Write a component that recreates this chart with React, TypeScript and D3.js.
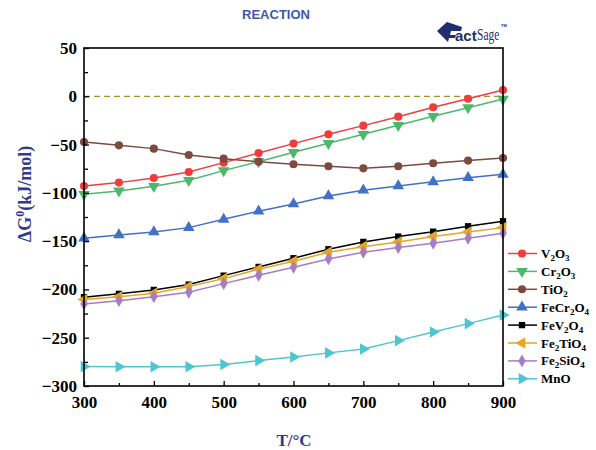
import React, { useEffect, useRef } from "react";
import * as d3 from "d3";

const temps = [300, 350, 400, 450, 500, 550, 600, 650, 700, 750, 800, 850, 900];

const v2o3 = [-92.9, -89.4, -84.6, -78.4, -68.7, -58.7, -49, -39.4, -30.4, -21.1, -11.4, -2.5, 6.5];
const cr2o3 = [-101.5, -98, -93.2, -87, -77, -67.7, -58, -48.7, -39.4, -30, -20.7, -11.8, -2.8];
const tio2 = [-47.3, -50.8, -54.2, -60.8, -64.6, -67.7, -70.4, -72.5, -74.6, -72.5, -69.4, -66.6, -63.9];
const fecr2o4 = [-147, -143.6, -140.5, -136, -127.4, -119, -111.5, -103.2, -97.3, -92.9, -88.6, -84.3, -80.8];
const fev2o4 = [-208, -204.6, -200.5, -195, -185.7, -176.7, -167.7, -158.4, -150.8, -145.3, -140.2, -134.6, -129.4];
const fe2tio4 = [-210.5, -207.5, -204, -197, -188.8, -179, -170.8, -161.5, -155.7, -150.8, -145.3, -140.5, -136];
const fe2sio4 = [-215, -211.6, -207.5, -202.9, -194, -185.3, -177, -168.4, -161.5, -156.7, -152.2, -147, -141.8];
const mno = [-279.9, -280, -280, -280, -277.8, -273.7, -269.9, -265.7, -261.6, -253, -244, -235.4, -226.4];

const seriesNames = [
  ["V", "2", "O", "3"],
  ["Cr", "2", "O", "3"],
  ["TiO", "2"],
  ["FeCr", "2", "O", "4"],
  ["FeV", "2", "O", "4"],
  ["Fe", "2", "TiO", "4"],
  ["Fe", "2", "SiO", "4"],
  ["MnO"],
];
const seriesValues = [v2o3, cr2o3, tio2, fecr2o4, fev2o4, fe2tio4, fe2sio4, mno];
const seriesColors = ["#f03c3c", "#4cb86a", "#7d4a40", "#4170c4", "#000000", "#e6a626", "#a67cc7", "#4ec6d2"];
const seriesSymbols = ["circle", "down", "circle", "up", "square", "left", "diamond", "right"];

const xTicks = [300, 400, 500, 600, 700, 800, 900];
const yTicks = [50, 0, -50, -100, -150, -200, -250, -300];

const serif = "'Liberation Serif', 'Times New Roman', serif";
const navy = "#2f3b8f";

const App = () => {
  const svgRef = useRef<SVGSVGElement>(null);

  useEffect(() => {
    const svg = d3.select(svgRef.current);
    svg.selectAll("*").remove();

    const left = 84, right = 503, top = 48, bottom = 386;
    const x = d3.scaleLinear().domain([300, 900]).range([left, right]);
    const y = d3.scaleLinear().domain([-300, 50]).range([bottom, top]);

    // title
    svg.append("text")
      .attr("x", 276).attr("y", 19)
      .attr("text-anchor", "middle")
      .attr("font-family", "'Liberation Sans', Arial, sans-serif")
      .attr("font-weight", "bold").attr("font-size", 13)
      .attr("fill", "#3d58b0")
      .text("REACTION");

    // FactSage logo (rough)
    const logoCol = "#1f2f6e";
    const logo = svg.append("g");
    logo.append("path")
      .attr("d", "M437,31 L447,22 L462,27 L461,31 L451,31 L450,35 L456,35 L455,38 L449,38 L448,42 Z")
      .attr("fill", logoCol);
    logo.append("text")
      .attr("x", 455).attr("y", 41)
      .attr("font-family", "'Liberation Sans', Arial, sans-serif")
      .attr("font-weight", "bold").attr("font-size", 15)
      .attr("fill", logoCol)
      .text("act");
    logo.append("text")
      .attr("transform", "translate(477,40) scale(0.72,1)")
      .attr("font-family", "'Liberation Serif', serif")
      .attr("font-size", 16)
      .attr("fill", logoCol)
      .text("Sage");
    logo.append("text")
      .attr("x", 501).attr("y", 27)
      .attr("font-family", "'Liberation Sans', sans-serif")
      .attr("font-size", 4).attr("font-weight", "bold")
      .attr("fill", logoCol)
      .text("TM");

    // zero reference line
    svg.append("line")
      .attr("x1", x(300)).attr("x2", x(900))
      .attr("y1", y(0)).attr("y2", y(0))
      .attr("stroke", "#9c9433").attr("stroke-width", 1.3)
      .attr("stroke-dasharray", "6,4");

    const line = d3.line<number>()
      .x((d, i) => x(temps[i]))
      .y((d) => y(d));

    const markerPath = (s: string) => {
      if (s === "circle") return d3.symbol(d3.symbolCircle, 52)();
      if (s === "square") return d3.symbol(d3.symbolSquare, 40)();
      if (s === "diamond") return d3.symbol(d3.symbolDiamond, 48)();
      return d3.symbol(d3.symbolTriangle, 58)();
    };
    const rot = (s: string) => (s === "down" ? 180 : s === "left" ? -90 : s === "right" ? 90 : 0);

    seriesValues.forEach((vals, si) => {
      const g = svg.append("g");
      g.append("path")
        .attr("d", line(vals))
        .attr("fill", "none")
        .attr("stroke", seriesColors[si])
        .attr("stroke-width", 1.5);
      g.selectAll("path.m")
        .data(vals)
        .enter()
        .append("path")
        .attr("class", "m")
        .attr("d", markerPath(seriesSymbols[si]))
        .attr("transform", (d, i) => `translate(${x(temps[i])},${y(d)}) rotate(${rot(seriesSymbols[si])})`)
        .attr("fill", seriesColors[si]);
    });

    // axes
    const fmtAxis = (g: any) => {
      g.attr("font-family", serif).attr("font-size", 17).attr("font-weight", "bold");
      g.select(".domain").remove();
      g.selectAll("text").attr("fill", "#000");
      g.selectAll("line").attr("stroke", "#000").attr("stroke-width", 1.3);
    };

    const xMinor = svg.append("g")
      .attr("transform", `translate(0,${bottom})`)
      .call(d3.axisTop(x).tickValues(d3.range(350, 900, 100)).tickSize(3).tickFormat(() => ""));
    fmtAxis(xMinor);

    const xAxis = svg.append("g")
      .attr("transform", `translate(0,${bottom})`)
      .call(d3.axisBottom(x).tickValues(xTicks).tickSizeInner(-5).tickSizeOuter(0).tickPadding(10));
    fmtAxis(xAxis);

    const yMinor = svg.append("g")
      .attr("transform", `translate(${left},0)`)
      .call(d3.axisRight(y).tickValues(d3.range(25, -300, -50)).tickSize(4).tickFormat(() => ""));
    fmtAxis(yMinor);

    const yAxis = svg.append("g")
      .attr("transform", `translate(${left},0)`)
      .call(d3.axisLeft(y).tickValues(yTicks).tickSizeInner(-5).tickSizeOuter(0).tickPadding(7).tickFormat(d3.format("d")));
    fmtAxis(yAxis);

    // frame
    svg.append("rect")
      .attr("x", left).attr("y", top)
      .attr("width", right - left).attr("height", bottom - top)
      .attr("fill", "none").attr("stroke", "#000").attr("stroke-width", 1.6);

    // axis titles
    const yt = svg.append("text")
      .attr("transform", `translate(31,194) rotate(-90)`)
      .attr("text-anchor", "middle")
      .attr("font-family", serif).attr("font-weight", "bold").attr("font-size", 18)
      .attr("fill", navy);
    yt.append("tspan").text("ΔG");
    yt.append("tspan").attr("dy", -7).attr("font-size", 12).text("0");
    yt.append("tspan").attr("dy", 7).text("(kJ/mol)");

    svg.append("text")
      .attr("x", 294).attr("y", 446)
      .attr("text-anchor", "middle")
      .attr("font-family", serif).attr("font-weight", "bold").attr("font-size", 17)
      .attr("fill", navy)
      .text("T/°C");

    // legend
    const lg = svg.append("g");
    seriesNames.forEach((parts, si) => {
      const ly = 253.5 + si * 17.9;
      lg.append("line")
        .attr("x1", 508).attr("x2", 537)
        .attr("y1", ly).attr("y2", ly)
        .attr("stroke", seriesColors[si]).attr("stroke-width", 1.5);
      lg.append("path")
        .attr("d", markerPath(seriesSymbols[si]))
        .attr("transform", `translate(522,${ly}) rotate(${rot(seriesSymbols[si])})`)
        .attr("fill", seriesColors[si]);
      const t = lg.append("text")
        .attr("x", 541).attr("y", ly + 4.5)
        .attr("font-family", serif).attr("font-weight", "bold").attr("font-size", 13)
        .attr("fill", "#000");
      parts.forEach((p, pi) => {
        const sub = pi % 2 === 1;
        t.append("tspan")
          .attr("font-size", sub ? 9 : 13)
          .attr("dy", sub ? 3 : pi > 0 ? -3 : 0)
          .text(p);
      });
    });
  }, []);

  return (
    <svg ref={svgRef} width={596} height={450} style={{ position: "absolute", left: 0, top: 0, background: "#fff" }} />
  );
};

export default App;
